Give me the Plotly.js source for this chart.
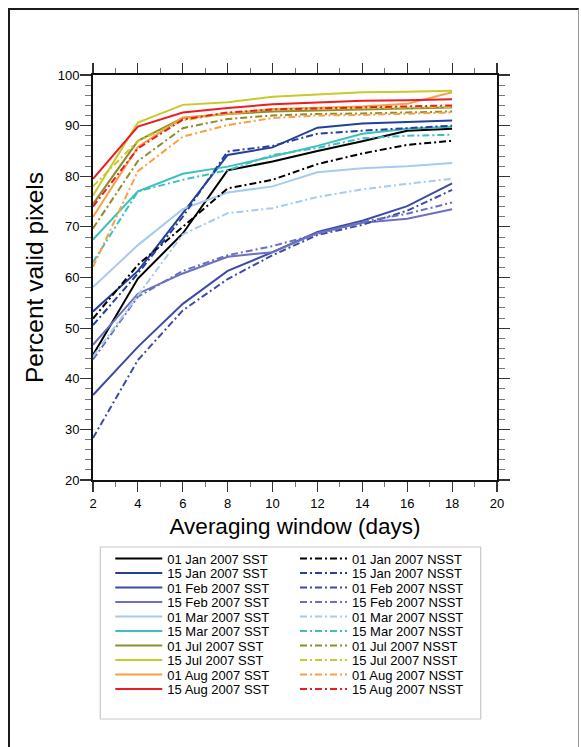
<!DOCTYPE html>
<html>
<head>
<meta charset="utf-8">
<script src="https://cdn.plot.ly/plotly-3.0.1.min.js"></script>
<style>
  html, body { margin: 0; padding: 0; background: #ffffff; }
  #chart { width: 581px; height: 747px; position: absolute; left: 0; top: 0; }
  #frame { position: absolute; left: 8px; top: 8px; width: 568px; height: 760px;
           border-left: 2.5px solid #1a1a1a; border-top: 2.5px solid #1a1a1a;
           border-right: 1px solid #9a9a9a; pointer-events: none; }
</style>
</head>
<body>
<div id="chart"></div>
<div id="frame"></div>
<script>
// ---- data ----
const windows = [2, 4, 6, 8, 10, 12, 14, 16, 18];

const seriesNames = ['01 Jan 2007', '15 Jan 2007', '01 Feb 2007', '15 Feb 2007', '01 Mar 2007',
                     '15 Mar 2007', '01 Jul 2007', '15 Jul 2007', '01 Aug 2007', '15 Aug 2007'];

const jan01_sst = [44.7, 59.8, 68.7, 81.2, 82.9, 85.0, 86.9, 89.0, 89.4];
const jan15_sst = [53.3, 61.3, 72.7, 84.2, 85.7, 89.6, 90.4, 90.7, 91.0];
const feb01_sst = [36.8, 46.3, 54.8, 61.3, 65.0, 69.0, 71.2, 74.1, 78.6];
const feb15_sst = [46.7, 56.8, 60.8, 64.1, 65.0, 68.8, 70.8, 71.6, 73.5];
const mar01_sst = [58.1, 66.4, 73.5, 76.8, 78.0, 80.8, 81.6, 82.0, 82.6];
const mar15_sst = [67.5, 77.0, 80.5, 81.9, 83.9, 86.0, 88.4, 89.4, 89.8];
const jul01_sst = [74.5, 87.0, 91.5, 92.3, 92.8, 93.0, 93.2, 93.4, 93.6];
const jul15_sst = [76.2, 90.6, 94.1, 94.6, 95.7, 96.1, 96.6, 96.7, 96.9];
const aug01_sst = [72.0, 85.8, 91.6, 92.3, 93.3, 93.5, 93.8, 94.3, 96.6];
const aug15_sst = [79.5, 89.8, 92.6, 93.5, 94.2, 94.6, 94.9, 95.0, 95.2];

const jan01_nsst = [51.9, 62.5, 70.0, 77.6, 79.3, 82.4, 84.5, 86.2, 87.0];
const jan15_nsst = [50.6, 60.8, 72.0, 84.9, 86.0, 88.4, 89.0, 89.5, 90.0];
const feb01_nsst = [28.3, 43.7, 53.5, 59.7, 64.4, 68.4, 70.4, 73.2, 77.3];
const feb15_nsst = [43.8, 56.2, 61.3, 64.4, 66.2, 68.6, 71.0, 72.6, 74.8];
const mar01_nsst = [44.4, 56.5, 68.5, 72.7, 73.7, 75.9, 77.4, 78.5, 79.5];
const mar15_nsst = [63.0, 77.0, 79.3, 81.2, 84.2, 85.6, 87.5, 88.0, 88.2];
const jul01_nsst = [69.7, 83.0, 89.5, 91.3, 92.0, 92.3, 92.4, 92.6, 92.8];
const jul15_nsst = [78.0, 87.0, 91.0, 92.5, 93.2, 93.3, 93.4, 93.5, 93.7];
const aug01_nsst = [62.1, 81.0, 87.8, 90.1, 91.5, 92.0, 92.1, 92.4, 92.6];
const aug15_nsst = [74.0, 85.5, 91.2, 92.6, 93.2, 93.4, 93.6, 93.7, 94.0];

const xTickVals = [2, 4, 6, 8, 10, 12, 14, 16, 18, 20];
const yTickVals = [20, 30, 40, 50, 60, 70, 80, 90, 100];

// ---- styles ----
const colors = ['#000000', '#24409a', '#3d4ba6', '#6b6fc0', '#a6cbef',
                '#3dbfbf', '#8d8d2e', '#c9c92a', '#f9a044', '#ed1c24'];
const sstData = [jan01_sst, jan15_sst, feb01_sst, feb15_sst, mar01_sst,
                 mar15_sst, jul01_sst, jul15_sst, aug01_sst, aug15_sst];
const nsstData = [jan01_nsst, jan15_nsst, feb01_nsst, feb15_nsst, mar01_nsst,
                  mar15_nsst, jul01_nsst, jul15_nsst, aug01_nsst, aug15_nsst];

const FONT = 'Liberation Sans, Arial, Helvetica, sans-serif';
const traces = [];
for (let i = 0; i < seriesNames.length; i++) {
  traces.push({
    x: windows, y: sstData[i], type: 'scatter', mode: 'lines',
    name: seriesNames[i] + ' SST', legend: 'legend',
    line: { color: colors[i], width: 2 }
  });
}
for (let i = 0; i < seriesNames.length; i++) {
  traces.push({
    x: windows, y: nsstData[i], type: 'scatter', mode: 'lines',
    name: seriesNames[i] + ' NSST', legend: 'legend2',
    line: { color: colors[i], width: 2, dash: '7px,3px,2px,3px' }
  });
}

const L = 92.7, R = 83.7, T = 75, B = 267;
const plotH = 747 - T - B;
const plotW = 581 - L - R;
function py(pix) { return (747 - B - pix) / plotH; }
function px(pix) { return (pix - L) / plotW; }

const layout = {
  width: 581, height: 747,
  margin: { l: L, r: R, t: T, b: B, autoexpand: false },
  paper_bgcolor: 'rgba(0,0,0,0)', plot_bgcolor: '#ffffff',
  font: { family: FONT, color: '#000000' },
  showlegend: true,
  xaxis: {
    range: [2, 20], tickmode: 'array', tickvals: xTickVals,
    ticks: 'outside', ticklen: 10, tickwidth: 1.2, tickcolor: '#333',
    minor: { dtick: 1, ticks: 'outside', ticklen: 5, tickwidth: 1, tickcolor: '#777', showgrid: false },
    showline: true, linewidth: 2, linecolor: '#111', mirror: 'ticks',
    showgrid: false, zeroline: false,
    tickfont: { size: 13, family: FONT },
    title: { text: 'Averaging window (days)', font: { size: 22.5, family: FONT }, standoff: 9 }
  },
  yaxis: {
    range: [20, 100], tickmode: 'array', tickvals: yTickVals,
    ticks: 'outside', ticklen: 11, tickwidth: 1.2, tickcolor: '#333',
    ticklabelstandoff: -2,
    minor: { dtick: 2, ticks: 'outside', ticklen: 6, tickwidth: 1, tickcolor: '#777', showgrid: false },
    showline: true, linewidth: 2, linecolor: '#111', mirror: 'ticks',
    showgrid: false, zeroline: false,
    tickfont: { size: 13, family: FONT },
    title: { text: 'Percent valid pixels', font: { size: 24.5, family: FONT }, standoff: 7 }
  },
  legend: {
    x: px(110), y: py(543.5), xanchor: 'left', yanchor: 'top',
    orientation: 'v', itemwidth: 47, bgcolor: 'rgba(0,0,0,0)', borderwidth: 0,
    font: { size: 13, family: FONT }, tracegroupgap: 0, itemclick: false
  },
  legend2: {
    x: px(295), y: py(543.5), xanchor: 'left', yanchor: 'top',
    orientation: 'v', itemwidth: 47, bgcolor: 'rgba(0,0,0,0)', borderwidth: 0,
    font: { size: 13, family: FONT }, tracegroupgap: 0, itemclick: false
  },
  shapes: [{
    type: 'rect', xref: 'paper', yref: 'paper',
    x0: px(100), x1: px(481), y0: py(547), y1: py(719),
    line: { color: '#c8c8c8', width: 1.2 }, fillcolor: 'rgba(0,0,0,0)', layer: 'below'
  }]
};

const ROW_STEP = 14.5;
Plotly.newPlot('chart', traces, layout, { displayModeBar: false, staticPlot: true }).then(function () {
  ['legend', 'legend2'].forEach(function (id) {
    const items = document.querySelectorAll('g.' + id + ' g.traces');
    let y0 = null;
    items.forEach(function (el, i) {
      const t = el.getAttribute('transform') || '';
      const m = /translate\(\s*([-\d.e]+)[\s,]+([-\d.e]+)\s*\)/.exec(t);
      if (!m) return;
      const x = parseFloat(m[1]), y = parseFloat(m[2]);
      if (y0 === null) y0 = y;
      el.setAttribute('transform', 'translate(' + x + ',' + (y0 + i * ROW_STEP) + ')');
    });
  });
});
</script>
</body>
</html>
